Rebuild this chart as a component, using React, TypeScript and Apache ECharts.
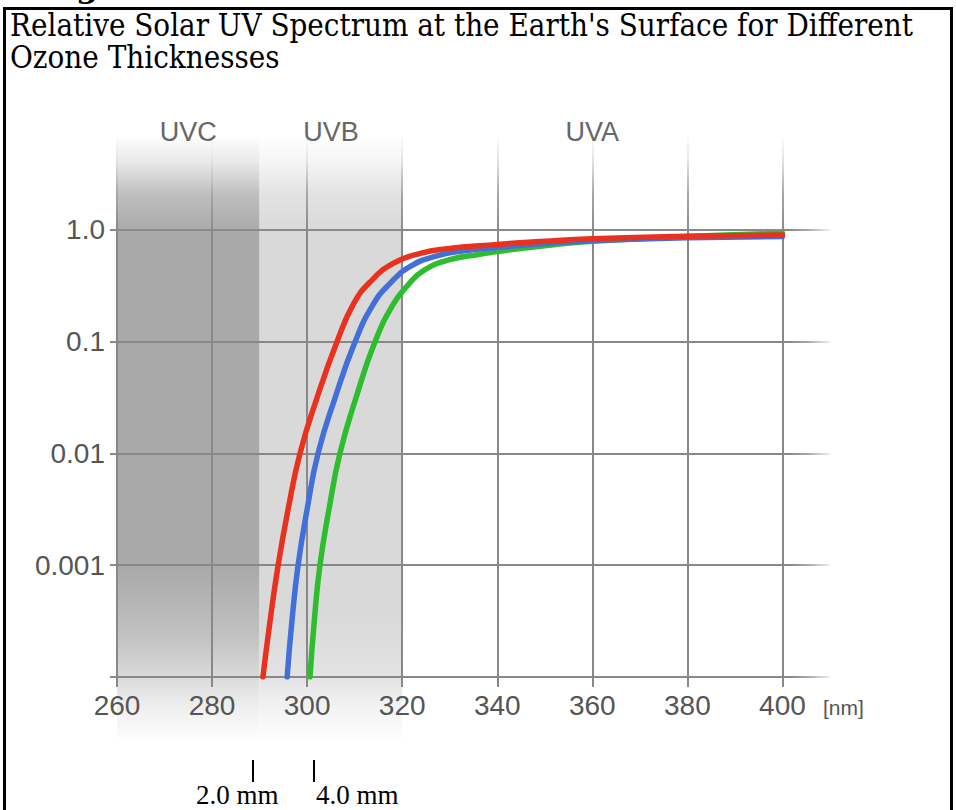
import React, { useEffect, useRef } from 'react';
import * as echarts from 'echarts';

// ---- data ----
const wavelengthTicks = [260, 280, 300, 320, 340, 360, 380, 400];
const intensityTicks = [0.0001, 0.001, 0.01, 0.1, 1];
const intensityLabels = [0.001, 0.01, 0.1, 1];
const bandNames = ['UVC', 'UVB', 'UVA'];
const bandEdges = [260, 290, 320, 400];
const ozoneLabels = ['2.0 mm', '4.0 mm'];
const unitLabel = '[nm]';

// [wavelength nm, relative intensity]
const ozone2mm = [
  [290.7, 0.0001], [292.2, 0.000316], [293.9, 0.001], [296.0, 0.00316], [298.5, 0.01],
  [302.1, 0.0316], [306.3, 0.1], [309.7, 0.215], [313.2, 0.34], [318.1, 0.5],
  [323.8, 0.615], [329.0, 0.675], [340, 0.74], [350, 0.79], [360, 0.83],
  [380, 0.875], [400, 0.9],
];
const ozone3mm = [
  [295.8, 0.0001], [296.8, 0.000316], [298.1, 0.001], [300.0, 0.00316], [302.3, 0.01],
  [305.9, 0.0316], [310.1, 0.1], [313.9, 0.215], [317.4, 0.33], [321.7, 0.47],
  [327.3, 0.585], [333, 0.65], [340, 0.695], [350, 0.755], [360, 0.8],
  [380, 0.85], [400, 0.87],
];
const ozone4mm = [
  [300.6, 0.0001], [301.5, 0.000316], [302.7, 0.001], [304.6, 0.00316], [306.9, 0.01],
  [310.3, 0.0316], [314.3, 0.1], [318.1, 0.215], [321.2, 0.32], [324.4, 0.43],
  [330, 0.54], [336.4, 0.605], [340, 0.64], [350, 0.72], [360, 0.79],
  [380, 0.87], [400, 0.93],
];

const GRID = '#888888';
const LABEL = '#555555';
const SANS = 'Liberation Sans, Arial, sans-serif';

function vGrad(stops: [number, string][]) {
  return {
    type: 'linear', x: 0, y: 0, x2: 0, y2: 1,
    colorStops: stops.map(([offset, color]) => ({ offset: Math.max(0, Math.min(1, offset)), color })),
  };
}
function hGrad(stops: [number, string][]) {
  return {
    type: 'linear', x: 0, y: 0, x2: 1, y2: 0,
    colorStops: stops.map(([offset, color]) => ({ offset: Math.max(0, Math.min(1, offset)), color })),
  };
}

export default function App() {
  const ref = useRef<HTMLDivElement>(null);

  useEffect(() => {
    if (!ref.current) return;
    const chart = echarts.init(ref.current, undefined, { renderer: 'svg' });
    const lineSeries = (name: string, data: number[][], color: string) => ({
      name,
      type: 'line',
      data,
      smooth: 0.5,
      symbol: 'none',
      lineStyle: { color, width: 5.5, cap: 'round' },
      z: 3,
    });
    chart.setOption({
      animation: false,
      grid: { left: 117, right: 126, top: 118, bottom: 133, containLabel: false },
      xAxis: {
        type: 'value',
        min: 260,
        max: 410,
        axisLine: { show: false },
        axisTick: { show: true, length: 10, customValues: wavelengthTicks, lineStyle: { color: GRID, width: 2 } },
        axisLabel: {
          customValues: wavelengthTicks, margin: 14, fontSize: 28, color: LABEL, fontFamily: SANS,
        },
        splitLine: { show: true, lineStyle: { color: GRID, width: 2 } },
      },
      yAxis: {
        type: 'log',
        logBase: 10,
        min: 0.0001,
        max: 10,
        axisLine: { show: false },
        axisTick: { show: true, length: 7, customValues: intensityTicks, lineStyle: { color: GRID, width: 2 } },
        axisLabel: {
          customValues: intensityLabels,
          formatter: (v: number) => (v >= 1 ? '1.0' : String(v)),
          margin: 12, fontSize: 28, color: LABEL, fontFamily: SANS,
        },
        splitLine: { show: true, lineStyle: { color: GRID, width: 2 } },
      },
      series: [
        lineSeries('4.0 mm', ozone4mm, '#2dbd2f'),
        lineSeries('3.0 mm', ozone3mm, '#4270d8'),
        lineSeries('2.0 mm', ozone2mm, '#e8321f'),
      ],
    });

    const px = (x: number, y: number) => chart.convertToPixel({ gridIndex: 0 }, [x, y]) as number[];
    const top = px(260, 10)[1];
    const axisY = px(260, 0.0001)[1];
    const oneY = px(260, 1)[1];
    const bandTop = top - 8;
    const bandBottom = axisY + 65;
    const bh = bandBottom - bandTop;
    const s = (y: number) => (y - bandTop) / bh;

    const bandFills = [
      vGrad([[0, '#a9a9a9'], [s(axisY - 110), '#a9a9a9'], [s(axisY - 40), '#c2c2c2'], [s(axisY), '#dadada'], [s(axisY + 25), '#ececec'], [1, '#ffffff']]),
      vGrad([[0, '#d9d9d9'], [s(axisY - 60), '#d9d9d9'], [s(axisY), '#e3e3e3'], [s(axisY + 25), '#f0f0f0'], [1, '#ffffff']]),
    ];

    const graphics: any[] = [];
    bandFills.forEach((fill, i) => {
      const x0 = px(bandEdges[i], 1)[0];
      const x1 = px(bandEdges[i + 1], 1)[0];
      graphics.push({
        type: 'rect', silent: true, z: -1,
        shape: { x: x0, y: bandTop, width: x1 - x0, height: bh },
        style: { fill },
      });
    });

    // top fade
    const oy = bandTop - 10;
    const oh = oneY + 3 - oy;
    const t = (y: number) => (y - oy) / oh;
    const fx = px(260, 1)[0] - 25;
    graphics.push({
      type: 'rect', silent: true, z: 1,
      shape: { x: fx, y: oy, width: 935 - fx, height: oh },
      style: {
        fill: vGrad([
          [0, 'rgba(255,255,255,1)'], [t(oneY - 95), 'rgba(255,255,255,1)'], [t(oneY - 68), 'rgba(255,255,255,0.75)'],
          [t(oneY - 35), 'rgba(255,255,255,0.25)'], [1, 'rgba(255,255,255,0)'],
        ]),
      },
    });
    // right fade
    const rx = px(400, 1)[0] + 6;
    const rw = px(410, 1)[0] + 20 - rx;
    graphics.push({
      type: 'rect', silent: true, z: 1,
      shape: { x: rx, y: top - 10, width: rw, height: axisY + 4 - (top - 10) },
      style: {
        fill: hGrad([
          [0, 'rgba(255,255,255,0)'], [0.3, 'rgba(255,255,255,0.25)'], [0.7, 'rgba(255,255,255,0.9)'], [1, 'rgba(255,255,255,1)'],
        ]),
      },
    });
    // band names
    bandNames.forEach((name, i) => {
      const cx = px((bandEdges[i] + bandEdges[i + 1]) / 2, 1)[0];
      graphics.push({
        type: 'text', silent: true, z: 10,
        x: cx, y: top + 14,
        style: { text: name, fill: '#666666', font: `27px ${SANS}`, align: 'center', verticalAlign: 'middle' },
      });
    });
    // unit label
    graphics.push({
      type: 'text', silent: true, z: 10,
      x: px(410, 1)[0] - 7, y: axisY + 30,
      style: { text: unitLabel, fill: LABEL, font: `21px ${SANS}`, align: 'left', verticalAlign: 'middle' },
    });

    chart.setOption({ graphic: graphics });
    return () => chart.dispose();
  }, []);

  const titleFont: React.CSSProperties = {
    fontFamily: '"DejaVu Serif Condensed", "DejaVu Serif", serif',
    fontStretch: 'condensed',
    fontSize: 31,
    lineHeight: '32px',
  };

  return (
    <div style={{ position: 'absolute', left: 0, top: 0, width: 956, height: 810, overflow: 'hidden', background: '#fff' }}>
      <div style={{ position: 'absolute', left: 76, top: -30, font: 'bold 32px "DejaVu Serif"', lineHeight: '32px', color: '#000' }}>g</div>
      <div style={{ position: 'absolute', left: 3, top: 7, width: 944, height: 900, border: '3px solid #000' }} />
      <div style={{ position: 'absolute', left: 10, top: 9, width: 940, color: '#000', whiteSpace: 'nowrap', ...titleFont }}>
        Relative Solar UV Spectrum at the Earth's Surface for Different<br />Ozone Thicknesses
      </div>
      <div ref={ref} style={{ position: 'absolute', left: 0, top: 0, width: 956, height: 810 }} />
      <div style={{ position: 'absolute', left: 252, top: 760, width: 2, height: 22, background: '#000' }} />
      <div style={{ position: 'absolute', left: 313, top: 760, width: 2, height: 22, background: '#000' }} />
      <div style={{ position: 'absolute', left: 196, top: 780, font: '27px "Liberation Serif"', lineHeight: '30px', color: '#000', whiteSpace: 'nowrap' }}>{ozoneLabels[0]}</div>
      <div style={{ position: 'absolute', left: 316, top: 780, font: '27px "Liberation Serif"', lineHeight: '30px', color: '#000', whiteSpace: 'nowrap' }}>{ozoneLabels[1]}</div>
    </div>
  );
}
